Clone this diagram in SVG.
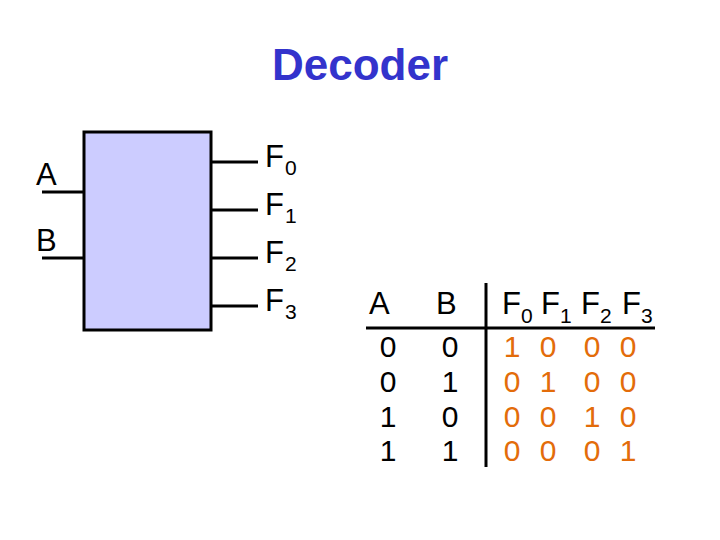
<svg xmlns="http://www.w3.org/2000/svg" width="720" height="540" viewBox="0 0 720 540">
<style>
.t{font-family:"Liberation Sans",Arial,sans-serif;font-size:31px;fill:#000}
.s{font-family:"Liberation Sans",Arial,sans-serif;font-size:21px;fill:#000}
.d{font-family:"Liberation Sans",Arial,sans-serif;font-size:30px;fill:#000;text-anchor:middle}
.o{fill:#E36C0A}
.w{stroke:#000;stroke-width:3;fill:none}
</style>
<rect width="720" height="540" fill="#fff"/>
<text id="title" x="360" y="80" text-anchor="middle" style="font-family:'Liberation Sans',Arial,sans-serif;font-size:44px;font-weight:bold;fill:#3333CC">Decoder</text>
<g id="decoder">
<rect x="84" y="132" width="127" height="198" fill="#CCCCFF" stroke="#000" stroke-width="3"/>
</g>
<g id="connectors">
<line class="w" x1="42" y1="192" x2="84" y2="192"/>
<line class="w" x1="42" y1="258" x2="84" y2="258"/>
<line class="w" x1="211" y1="162" x2="258" y2="162"/>
<line class="w" x1="211" y1="210" x2="258" y2="210"/>
<line class="w" x1="211" y1="258" x2="258" y2="258"/>
<line class="w" x1="211" y1="306" x2="258" y2="306"/>
</g>
<g id="inputs">
<text class="t" x="36" y="185">A</text>
<text class="t" x="36" y="251">B</text>
</g>
<g id="outputs">
<text class="t" x="265" y="167">F</text><text class="s" x="285" y="175">0</text>
<text class="t" x="265" y="215">F</text><text class="s" x="285" y="223">1</text>
<text class="t" x="265" y="263">F</text><text class="s" x="285" y="271">2</text>
<text class="t" x="265" y="311">F</text><text class="s" x="285" y="319">3</text>
</g>
<g id="truth-table">
<line class="w" x1="486" y1="283" x2="486" y2="467"/>
<line class="w" x1="366" y1="328" x2="655" y2="328"/>
<text class="t" x="369" y="314">A</text>
<text class="t" x="436" y="314">B</text>
<text class="t" x="502" y="314">F</text><text class="s" x="521" y="323">0</text>
<text class="t" x="541" y="314">F</text><text class="s" x="560" y="323">1</text>
<text class="t" x="581" y="314">F</text><text class="s" x="600" y="323">2</text>
<text class="t" x="622" y="314">F</text><text class="s" x="641" y="323">3</text>
<g>
<text class="d" x="388" y="357">0</text><text class="d" x="450" y="357">0</text>
<text class="d" x="388" y="392">0</text><text class="d" x="450" y="392">1</text>
<text class="d" x="388" y="427">1</text><text class="d" x="450" y="427">0</text>
<text class="d" x="388" y="461">1</text><text class="d" x="450" y="461">1</text>
</g>
<g>
<text class="d o" x="512" y="357">1</text><text class="d o" x="548" y="357">0</text><text class="d o" x="592" y="357">0</text><text class="d o" x="628" y="357">0</text>
<text class="d o" x="512" y="392">0</text><text class="d o" x="548" y="392">1</text><text class="d o" x="592" y="392">0</text><text class="d o" x="628" y="392">0</text>
<text class="d o" x="512" y="427">0</text><text class="d o" x="548" y="427">0</text><text class="d o" x="592" y="427">1</text><text class="d o" x="628" y="427">0</text>
<text class="d o" x="512" y="461">0</text><text class="d o" x="548" y="461">0</text><text class="d o" x="592" y="461">0</text><text class="d o" x="628" y="461">1</text>
</g>
</g>
</svg>
